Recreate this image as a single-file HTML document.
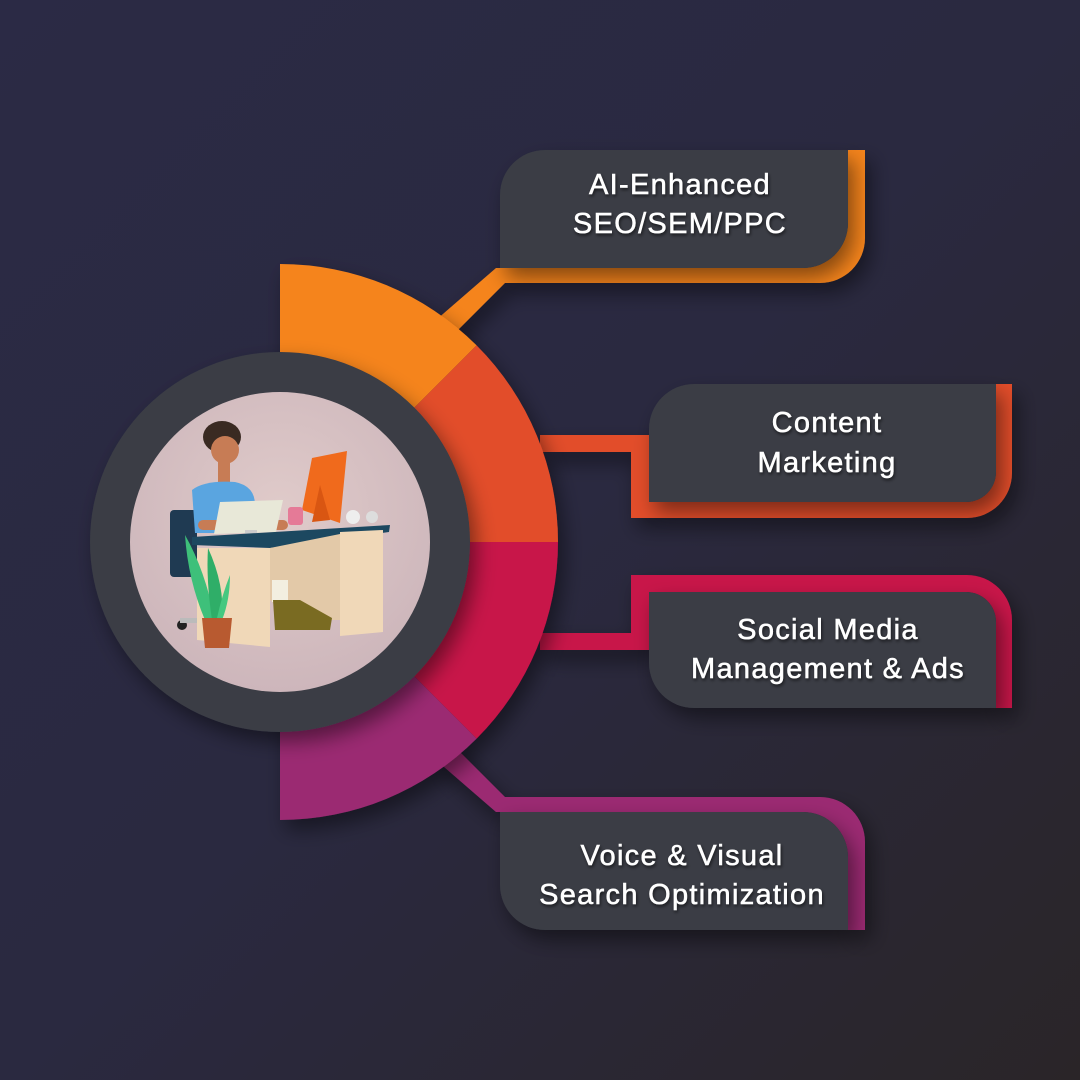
<!DOCTYPE html>
<html><head><meta charset="utf-8"><style>
html,body{margin:0;padding:0}
body{width:1080px;height:1080px;overflow:hidden;background:linear-gradient(135deg,#2b2a45 0%,#2a2940 50%,#2a2528 100%);font-family:"Liberation Sans",sans-serif}
svg{position:absolute;left:0;top:0}
</style></head><body>
<svg width="1080" height="1080" viewBox="0 0 1080 1080">
<defs>
<filter id="sh" x="-30%" y="-30%" width="160%" height="160%"><feDropShadow dx="6" dy="10" stdDeviation="10" flood-color="#000" flood-opacity="0.45"/></filter>
<filter id="ts"><feDropShadow dx="1" dy="2" stdDeviation="1.5" flood-color="#000" flood-opacity="0.6"/></filter>
<radialGradient id="pk" cx="50%" cy="40%" r="60%"><stop offset="0" stop-color="#e0cbca"/><stop offset="1" stop-color="#cdb6bb"/></radialGradient>
</defs>

<g filter="url(#sh)">
<path d="M848,150 H865 V238 A45,45 0 0 1 820,283 H505 L452,336 L436,320 L496,268 H803 A45,45 0 0 0 848,223 Z" fill="#f5841f"/>
<path d="M540,435 H649 V502 H966 A30,30 0 0 0 996,472 V384 H1012 V473 A45,45 0 0 1 967,518 H631 V452 H540 Z" fill="#e24e2b"/>
<path d="M540,650 H649 V592 H966 A30,30 0 0 1 996,622 V708 H1012 V620 A45,45 0 0 0 967,575 H631 V633 H540 Z" fill="#c8124a"/>
<path d="M848,930 H865 V842 A45,45 0 0 0 820,797 H505 L452,744 L436,760 L496,812 H803 A45,45 0 0 1 848,857 Z" fill="#9b2a72"/>
</g>

<g filter="url(#sh)">
<path d="M280,264 A278,278 0 0 1 476.6,345.4 L280,542 Z" fill="#f5841f"/>
<path d="M476.6,345.4 A278,278 0 0 1 558,542 L280,542 Z" fill="#e24e2b"/>
<path d="M558,542 A278,278 0 0 1 476.6,738.6 L280,542 Z" fill="#c8124a"/>
<path d="M476.6,738.6 A278,278 0 0 1 280,820 L280,542 Z" fill="#9b2a72"/>
</g>
<circle cx="280" cy="542" r="190" fill="#3a3d45" filter="url(#sh)"/>
<circle cx="280" cy="542" r="150" fill="url(#pk)"/>

<g>
<rect x="170" y="510" width="27" height="67" rx="4" fill="#1f3a52"/>
<circle cx="182" cy="625" r="5" fill="#222"/>
<rect x="180" y="618" width="30" height="5" fill="#bbb"/>
<ellipse cx="222" cy="437" rx="19" ry="16" fill="#3a2a22"/>
<circle cx="225" cy="450" r="14" fill="#c77c55"/>
<rect x="218" y="460" width="12" height="26" fill="#c77c55"/>
<path d="M192,490 Q205,480 235,482 Q255,486 255,505 L253,533 L195,533 Z" fill="#5aa5e0"/>
<rect x="198" y="520" width="90" height="10" rx="5" fill="#c77c55"/>
<polygon points="312,458 347,451 340,523 302,510" fill="#f06a1c"/>
<polygon points="320,485 330,520 312,522" fill="#d95612"/>
<rect x="288" y="507" width="15" height="18" rx="3" fill="#e57a97"/>
<polygon points="220,502 283,500 276,532 214,534" fill="#e8e8d8"/>
<rect x="245" y="530" width="12" height="8" fill="#ccc"/>
<circle cx="353" cy="517" r="7" fill="#eee"/><circle cx="372" cy="517" r="6" fill="#ddd"/>
<polygon points="192,537 390,525 389,532 270,548 192,545" fill="#1c4860"/>
<polygon points="197,548 270,548 270,647 197,640" fill="#f0d8b8"/>
<polygon points="340,532 383,530 383,632 340,636" fill="#f0d8b8"/>
<polygon points="270,548 340,534 340,620 290,620 270,600" fill="#e3c9a8"/>
<rect x="272" y="580" width="16" height="22" fill="#f3efe0"/>
<path d="M273,600 L300,600 L332,618 L330,630 L275,630 Z" fill="#7a6b22"/>
<path d="M185,535 Q205,570 215,620 L205,620 Q188,580 185,535Z" fill="#3ec07a"/>
<path d="M208,548 Q225,585 222,620 L212,620 Q206,580 208,548Z" fill="#2fae68"/>
<path d="M230,575 Q230,600 222,620 L217,618 Q222,595 230,575Z" fill="#45c880"/>
<polygon points="202,618 232,618 229,648 205,648" fill="#b85a30"/>
</g>

<g filter="url(#sh)">
<path d="M545,150 H848 V223 A45,45 0 0 1 803,268 H500 V195 A45,45 0 0 1 545,150 Z" fill="#3a3d45"/>
<path d="M694,384 H996 V472 A30,30 0 0 1 966,502 H649 V429 A45,45 0 0 1 694,384 Z" fill="#3a3d45"/>
<path d="M649,592 H966 A30,30 0 0 1 996,622 V708 H694 A45,45 0 0 1 649,663 Z" fill="#3a3d45"/>
<path d="M500,812 H803 A45,45 0 0 1 848,857 V930 H545 A45,45 0 0 1 500,885 Z" fill="#3a3d45"/>
</g>

<g fill="#fff" stroke="#fff" stroke-width="0.5" font-family="Liberation Sans, sans-serif" font-size="29" letter-spacing="1.3" text-anchor="middle" filter="url(#ts)">
<text x="680" y="194">AI-Enhanced</text>
<text x="680" y="233">SEO/SEM/PPC</text>
<text x="827" y="432">Content</text>
<text x="827" y="472">Marketing</text>
<text x="828" y="639">Social Media</text>
<text x="828" y="678">Management &amp; Ads</text>
<text x="682" y="865">Voice &amp; Visual</text>
<text x="682" y="904">Search Optimization</text>
</g>
</svg>
</body></html>
